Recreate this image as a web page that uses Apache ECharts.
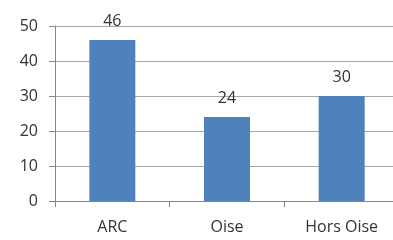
<!DOCTYPE html>
<html><head><meta charset="utf-8">
<script src="https://cdn.jsdelivr.net/npm/echarts@6/dist/echarts.min.js"></script>
<style>html,body{margin:0;padding:0;background:#fff}#c{width:393px;height:240px}</style>
</head><body><div id="c"></div>
<script>
const categories = ["ARC", "Oise", "Hors Oise"];
const values = [46, 24, 30];
const yTicks = [0, 10, 20, 30, 40, 50];

const chart = echarts.init(document.getElementById('c'), null, {renderer: 'canvas'});
const font = '"Open Sans", "Liberation Sans", sans-serif';
chart.setOption({
  animation: false,
  grid: {left: 55, width: 344, top: 26, height: 175, containLabel: false, outerBoundsMode: 'none'},
  xAxis: {
    type: 'category', data: categories,
    axisLine: {lineStyle: {color: '#868686', width: 1}},
    axisTick: {show: true, length: 6, lineStyle: {color: '#868686'}, interval: 0},
    axisLabel: {color: '#333333', fontSize: 16, fontFamily: font, margin: 18, interval: 0}
  },
  yAxis: {
    type: 'value', min: 0, max: 50, interval: 10,
    axisLine: {show: true, lineStyle: {color: '#868686'}},
    axisTick: {show: true, length: 6, lineStyle: {color: '#868686'}},
    splitLine: {show: true, lineStyle: {color: '#a6a6a6'}},
    axisLabel: {color: '#333333', fontSize: 16, fontFamily: font, margin: 17,
      formatter: v => yTicks.includes(v) ? String(v) : ''}
  },
  series: [{
    type: 'bar', data: values, barWidth: 46,
    itemStyle: {color: '#4F81BD'},
    label: {show: true, position: 'top', distance: 11, color: '#333333', fontSize: 16, fontFamily: font}
  }]
});
</script></body></html>
